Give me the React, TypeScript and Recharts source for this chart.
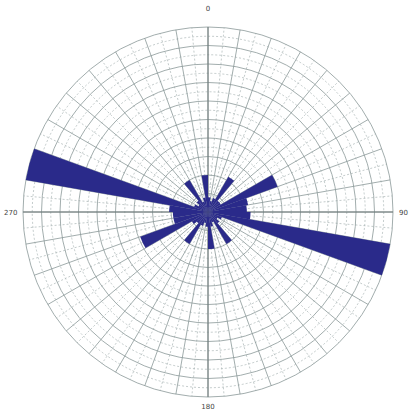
import { RadialBarChart, RadialBar, PolarGrid, PolarAngleAxis, PolarRadiusAxis } from 'recharts'

// 10 degree bins, clockwise from north
const bins = [
  '0-10', '10-20', '20-30', '30-40', '40-50', '50-60', '60-70', '70-80', '80-90',
  '90-100', '100-110', '110-120', '120-130', '130-140', '140-150', '150-160', '160-170', '170-180',
  '180-190', '190-200', '200-210', '210-220', '220-230', '230-240', '240-250', '250-260', '260-270',
  '270-280', '280-290', '290-300', '300-310', '310-320', '320-330', '330-340', '340-350', '350-360',
]

const counts = [
  0.8, 0.6, 0.8, 2.2, 0.8, 0.8, 4.0, 2.2, 2.1,
  2.3, 10, 0.8, 0.6, 0.8, 2.0, 0.6, 0.8, 2.0,
  0.8, 0.6, 0.8, 2.0, 0.8, 1.0, 3.9, 1.9, 1.9,
  2.1, 10, 0.8, 0.6, 0.8, 2.0, 0.6, 0.8, 2.0,
]

const directionLabels = ['0', '90', '180', '270']

const data = bins.map((bin, i) => ({ bin, count: counts[i] }))

const OUTER = 185
const RINGS = 10
const ringRadii = Array.from({ length: RINGS }, (_, i) => ((i + 1) * OUTER) / RINGS)
const halfRadii = Array.from({ length: RINGS }, (_, i) => ((i + 0.5) * OUTER) / RINGS)
const majorAngles = Array.from({ length: 36 }, (_, i) => i * 10)
const minorAngles = Array.from({ length: 36 }, (_, i) => i * 10 + 5)

const labelStyle = {
  position: 'absolute',
  fontSize: 7,
  color: '#444',
  fontFamily: 'DejaVu Sans, sans-serif',
  lineHeight: '9px',
  whiteSpace: 'nowrap',
} as const
const labelPos = [
  { left: 200, top: 5, width: 16, textAlign: 'center' },
  { left: 399, top: 209, width: 14, textAlign: 'left' },
  { left: 200, top: 403, width: 16, textAlign: 'center' },
  { left: 4, top: 209, width: 16, textAlign: 'left' },
] as const

export default function App() {
  return (
    <div style={{ position: 'absolute', left: 0, top: 0, width: 413, height: 420 }}>
      <RadialBarChart
        width={413}
        height={420}
        cx={208}
        cy={212}
        innerRadius={0}
        outerRadius={OUTER}
        startAngle={80}
        endAngle={-280}
        layout="centric"
        data={data}
        barCategoryGap={0}
        barGap={0}
        margin={{ top: 0, right: 0, bottom: 0, left: 0 }}
      >
        <PolarGrid
          gridType="circle"
          polarRadius={halfRadii}
          polarAngles={minorAngles}
          stroke="#a9b5b5"
          strokeWidth={0.7}
          strokeDasharray="2 2"
        />
        <PolarGrid
          gridType="circle"
          polarRadius={ringRadii}
          polarAngles={majorAngles}
          stroke="#8a9898"
          strokeWidth={0.8}
        />
        <PolarGrid
          gridType="circle"
          polarRadius={[]}
          polarAngles={[0, 90, 180, 270]}
          outerRadius={196}
          stroke="#6f7b7b"
          strokeWidth={1}
        />
        <PolarAngleAxis type="category" dataKey="bin" tick={false} axisLine={false} tickLine={false} />
        <PolarRadiusAxis type="number" domain={[0, 10]} tick={false} axisLine={false} />
        <RadialBar dataKey="count" fill="#2a2a8a" isAnimationActive={false} />
      </RadialBarChart>
      {directionLabels.map((t, i) => (
        <span key={t} style={{ ...labelStyle, ...labelPos[i] }}>{t}</span>
      ))}
    </div>
  )
}
